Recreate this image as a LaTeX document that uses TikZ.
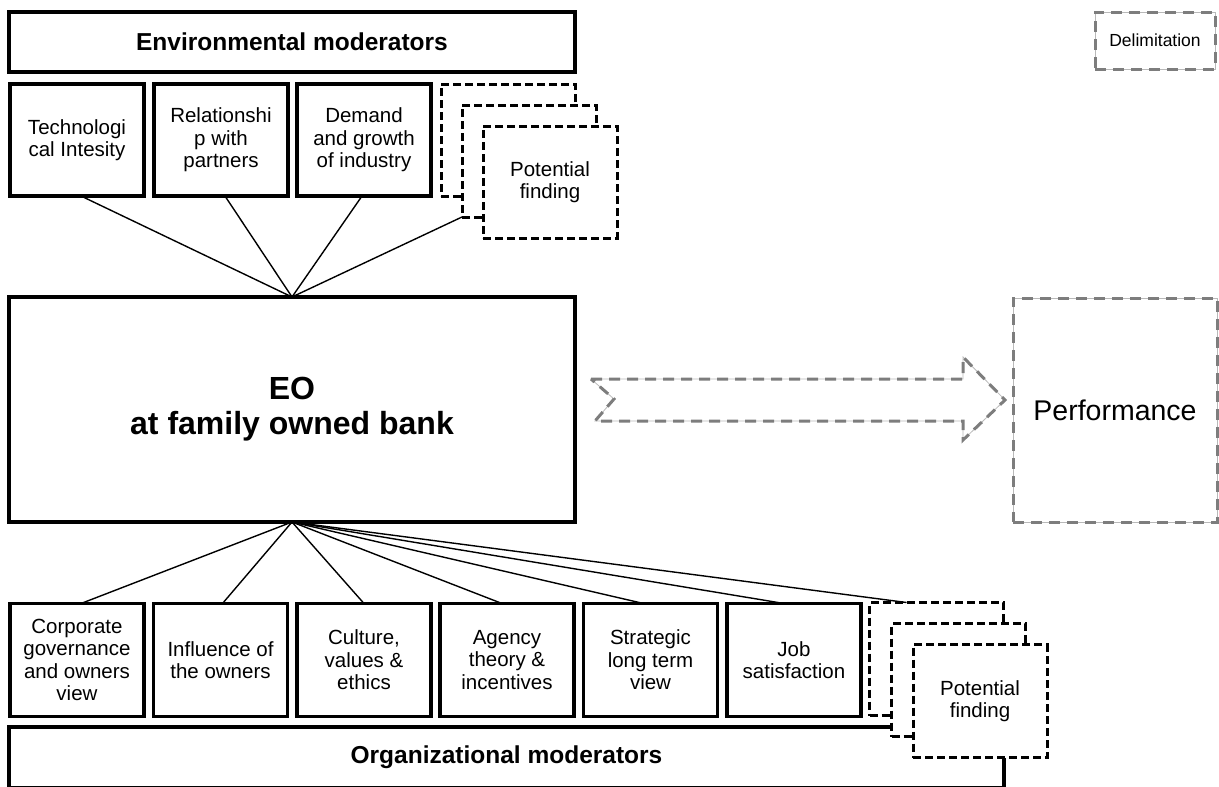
\documentclass[tikz,border=0pt]{standalone}
\usepackage{fontspec}
\setmainfont{Liberation Sans}
\definecolor{dgray}{RGB}{125,125,125}
\definecolor{lgray}{RGB}{185,185,185}
\begin{document}
\begin{tikzpicture}[x=1pt,y=-1pt,
  box/.style={draw=black, line width=3.2pt, fill=white, inner sep=0pt, outer sep=0pt,
    align=center, font=\fontsize{20.5}{22.4}\selectfont},
  cell/.style={box, minimum width=134pt, minimum height=112pt},
  dcell/.style={cell, dash pattern=on 8pt off 4pt, line width=3pt},
  bandbox/.style={box, font=\fontsize{24.5}{28}\selectfont\bfseries},
  graybox/.style={draw=dgray, line width=3pt, dash pattern=on 11pt off 7pt,
    preaction={draw=lgray, line width=0.8pt, solid}},
  link/.style={draw=black, line width=1.4pt}]
\useasboundingbox (0,0) rectangle (1219,787);
\clip (0,0) rectangle (1219,787);

% central construct
\node[box, minimum width=566pt, minimum height=225pt,
  font=\fontsize{32}{35}\selectfont\bfseries] (eo) at (292,409.5) {EO\\at family owned bank};

% environmental moderators
\node[bandbox, minimum width=566pt, minimum height=60pt] (env) at (292,42) {Environmental moderators};
\node[cell] (t1) at (77,140) {Technologi\\cal Intesity};
\node[cell] (t2) at (221,140) {Relationshi\\p with\\partners};
\node[cell] (t3) at (364,140) {Demand\\and growth\\of industry};
\node[dcell] (td1) at (508,140) {};
\node[dcell] (td2) at (529,161) {};
\node[dcell] (td3) at (550,182) {Potential\\finding};

\draw[link] ([xshift=4pt]t1.south) -- (eo.north);
\draw[link] ([xshift=4pt]t2.south) -- (eo.north);
\draw[link] ([xshift=-2pt]t3.south) -- (eo.north);
\draw[link] (td2.south west) -- (eo.north);

% organizational moderators (runs past the lower edge)
\node[bandbox, minimum width=995pt, minimum height=61pt] (org) at (506.5,757.5) {Organizational moderators};
\node[cell, minimum height=113pt] (b1) at (77,660) {Corporate\\governance\\and owners\\view};
\node[cell, minimum height=113pt] (b2) at (220.5,660) {Influence of\\the owners};
\node[cell, minimum height=113pt] (b3) at (364,660) {Culture,\\values \&\\ethics};
\node[cell, minimum height=113pt] (b4) at (507,660) {Agency\\theory \&\\incentives};
\node[cell, minimum height=113pt] (b5) at (650.5,660) {Strategic\\long term\\view};
\node[cell, minimum height=113pt] (b6) at (794,660) {Job\\satisfaction};
\node[dcell, minimum height=113pt] (bd1) at (936.5,659) {};
\node[dcell, minimum height=113pt] (bd2) at (958.5,680) {};
\node[dcell, minimum height=113pt] (bd3) at (980,701) {Potential\\finding};

\draw[link] (eo.south) -- ([xshift=4pt]b1.north);
\draw[link] (eo.south) -- ([xshift=2pt]b2.north);
\draw[link] (eo.south) -- (b3.north);
\draw[link] (eo.south) -- ([xshift=-5pt]b4.north);
\draw[link] (eo.south) -- ([xshift=-7pt]b5.north);
\draw[link] (eo.south) -- ([xshift=-10pt]b6.north);
\draw[link] (eo.south) -- ([xshift=-30pt]bd1.north);

% outcome and legend
\node[graybox, minimum width=204pt, minimum height=224pt, inner sep=0pt,
  font=\fontsize{28.5}{32}\selectfont] (perf) at (1115,410) {Performance};
\node[graybox, minimum width=120pt, minimum height=57pt, inner sep=0pt,
  font=\fontsize{17.5}{20}\selectfont] (delim) at (1155,40.5) {Delimitation};

% notched block arrow towards the outcome
\draw[graybox, line join=miter] (591,379) -- (963,379) -- (963,357) -- (1005,400)
  -- (963,440) -- (963,421) -- (595,421) -- (614,399) -- cycle;
\end{tikzpicture}
\end{document}
